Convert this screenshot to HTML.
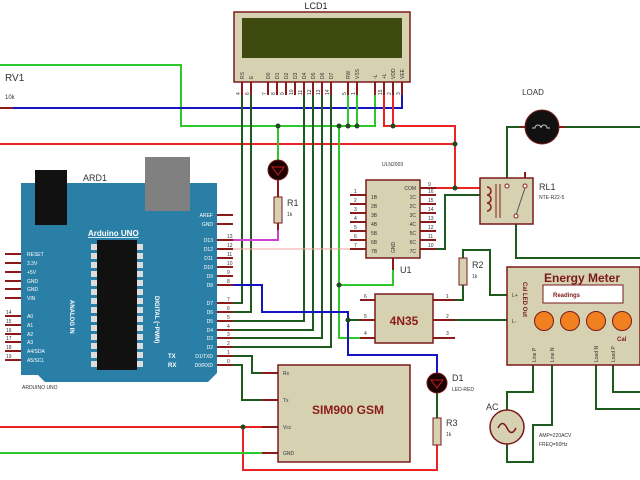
<!DOCTYPE html>
<html><head><meta charset="utf-8"><style>
html,body{margin:0;padding:0;background:#fff;width:640px;height:480px;overflow:hidden}
svg{display:block;font-family:"Liberation Sans",sans-serif}
</style></head><body>
<svg width="640" height="480" viewBox="0 0 640 480" xmlns="http://www.w3.org/2000/svg">
<g fill="none" stroke-width="2">
<!-- top wires -->
<polyline points="0,65 181,65 181,126 375,126 375,95" stroke="#2ec82e"/>
<polyline points="0,108 402,108 402,95" stroke="#1414c0"/>
<line x1="0" y1="144" x2="455" y2="144" stroke="#ee2222"/>
<polyline points="384,95 384,126 455,126 455,188 420,188" stroke="#ee2222"/>
<line x1="393" y1="95" x2="393" y2="126" stroke="#ee2222"/>
<line x1="455" y1="188" x2="480" y2="188" stroke="#ee2222"/>
<line x1="348" y1="95" x2="348" y2="126" stroke="#2ec82e"/>
<line x1="357" y1="95" x2="357" y2="126" stroke="#2ec82e"/>
<line x1="278" y1="126" x2="278" y2="160" stroke="#2ec82e"/>
<polyline points="339,126 339,338 360,338" stroke="#2ec82e"/>
<polyline points="339,285 393,285 393,268" stroke="#2ec82e"/>
<!-- data lines -->
<polyline points="233,303 242,303 242,95" stroke="#1e5a1e"/>
<polyline points="233,312 251,312 251,95" stroke="#1e5a1e"/>
<polyline points="233,321 304,321 304,95" stroke="#1e5a1e"/>
<polyline points="233,330 313,330 313,95" stroke="#1e5a1e"/>
<polyline points="233,338 322,338 322,95" stroke="#1e5a1e"/>
<polyline points="233,347 331,347 331,95" stroke="#1e5a1e"/>
<polyline points="278,228 278,240 233,240" stroke="#d040d0"/>
<line x1="233" y1="249" x2="350" y2="249" stroke="#f0a0a0" stroke-width="1"/>
<polyline points="233,285 262,285 262,312 348,312 348,355 437,355 437,373" stroke="#1414c0"/>
<line x1="348" y1="320" x2="360" y2="320" stroke="#1e5a1e"/>
<polyline points="233,356 252,356 252,373 262,373" stroke="#1e5a1e"/>
<polyline points="233,365 242,365 242,400 262,400" stroke="#1e5a1e"/>
<line x1="0" y1="427" x2="262" y2="427" stroke="#ee2222"/>
<polyline points="243,427 243,470 437,470 437,445" stroke="#ee2222"/>
<line x1="0" y1="453" x2="262" y2="453" stroke="#2ec82e"/>
<line x1="437" y1="393" x2="437" y2="418" stroke="#1e5a1e"/>
<polyline points="420,249 445,249 445,195 480,195" stroke="#1e5a1e"/>
<polyline points="507,185 507,127 525,127" stroke="#1e5a1e"/>
<line x1="560" y1="127" x2="640" y2="127" stroke="#1e5a1e"/>
<polyline points="516,224 516,258 640,258" stroke="#1e5a1e"/>
<polyline points="455,300 463,300 463,285" stroke="#1e5a1e"/>
<polyline points="463,258 463,250 490,250 490,295 507,295" stroke="#1e5a1e"/>
<line x1="455" y1="320" x2="507" y2="320" stroke="#1e5a1e"/>
<polyline points="533,365 533,392 507,392 507,410" stroke="#1e5a1e"/>
<polyline points="552,365 552,425 533,425 533,462 507,462 507,444" stroke="#1e5a1e"/>
<polyline points="596,365 596,409 640,409" stroke="#1e5a1e"/>
<polyline points="613,365 613,392 640,392" stroke="#1e5a1e"/>
</g>
<!-- dots -->
<g fill="#1e4a1e">
<circle cx="278" cy="126" r="2.5"/><circle cx="339" cy="126" r="2.5"/><circle cx="348" cy="126" r="2.5"/><circle cx="357" cy="126" r="2.5"/><circle cx="393" cy="126" r="2.5"/><circle cx="455" cy="144" r="2.5"/><circle cx="455" cy="188" r="2.5"/><circle cx="339" cy="285" r="2.5"/><circle cx="348" cy="320" r="2.5"/><circle cx="243" cy="427" r="2.5"/>
</g>
<!-- RV1 -->
<text x="5" y="81" font-size="10" fill="#333">RV1</text>
<text x="5" y="99" font-size="6" fill="#333">10k</text>
<line x1="0" y1="108" x2="13" y2="108" stroke="#8b1a1a" stroke-width="2"/>
<!-- LCD -->
<text x="316" y="9" font-size="9" fill="#222" text-anchor="middle">LCD1</text>
<rect x="234" y="12" width="176" height="70" fill="#d6d1b1" stroke="#7a1a1a" stroke-width="1.5"/>
<rect x="242" y="18" width="160" height="40" fill="#3e4a10"/>
<g stroke="#8b1a1a" stroke-width="2">
<line x1="242" y1="82" x2="242" y2="95"/><line x1="251" y1="82" x2="251" y2="95"/><line x1="268" y1="82" x2="268" y2="95"/><line x1="277" y1="82" x2="277" y2="95"/><line x1="286" y1="82" x2="286" y2="95"/><line x1="295" y1="82" x2="295" y2="95"/><line x1="304" y1="82" x2="304" y2="95"/><line x1="313" y1="82" x2="313" y2="95"/><line x1="322" y1="82" x2="322" y2="95"/><line x1="331" y1="82" x2="331" y2="95"/><line x1="348" y1="82" x2="348" y2="95"/><line x1="357" y1="82" x2="357" y2="95"/><line x1="375" y1="82" x2="375" y2="95"/><line x1="384" y1="82" x2="384" y2="95"/><line x1="393" y1="82" x2="393" y2="95"/><line x1="402" y1="82" x2="402" y2="95"/>
</g>
<g font-size="5" fill="#333">
<text transform="translate(244,79) rotate(-90)">RS</text><text transform="translate(253,79) rotate(-90)">E</text><text transform="translate(270,79) rotate(-90)">D0</text><text transform="translate(279,79) rotate(-90)">D1</text><text transform="translate(288,79) rotate(-90)">D2</text><text transform="translate(297,79) rotate(-90)">D3</text><text transform="translate(306,79) rotate(-90)">D4</text><text transform="translate(315,79) rotate(-90)">D5</text><text transform="translate(324,79) rotate(-90)">D6</text><text transform="translate(333,79) rotate(-90)">D7</text><text transform="translate(350,79) rotate(-90)">RW</text><text transform="translate(359,79) rotate(-90)">VSS</text><text transform="translate(377,79) rotate(-90)">-L</text><text transform="translate(386,79) rotate(-90)">+L</text><text transform="translate(395,79) rotate(-90)">VDD</text><text transform="translate(404,79) rotate(-90)">VEE</text>
<text transform="translate(240,95) rotate(-90)">4</text><text transform="translate(249,95) rotate(-90)">6</text><text transform="translate(266,95) rotate(-90)">7</text><text transform="translate(275,95) rotate(-90)">8</text><text transform="translate(284,95) rotate(-90)">9</text><text transform="translate(293,95) rotate(-90)">10</text><text transform="translate(302,95) rotate(-90)">11</text><text transform="translate(311,95) rotate(-90)">12</text><text transform="translate(320,95) rotate(-90)">13</text><text transform="translate(329,95) rotate(-90)">14</text><text transform="translate(346,95) rotate(-90)">5</text><text transform="translate(355,95) rotate(-90)">1</text><text transform="translate(382,95) rotate(-90)">15</text><text transform="translate(391,95) rotate(-90)">2</text><text transform="translate(400,95) rotate(-90)">3</text>
</g>
<!-- R1 LED -->
<circle cx="278" cy="170" r="10" fill="#1a0000" stroke="#7a1a1a"/>
<polygon points="272,167 284,167 278,175" fill="none" stroke="#c02020"/>
<line x1="278" y1="180" x2="278" y2="197" stroke="#8b1a1a" stroke-width="2"/>
<rect x="274" y="197" width="8" height="26" fill="#d6d1b1" stroke="#7a1a1a"/>
<line x1="278" y1="223" x2="278" y2="230" stroke="#8b1a1a" stroke-width="2"/>
<text x="287" y="206" font-size="9" fill="#333">R1</text><text x="287" y="216" font-size="5" fill="#333">1k</text>
<!-- Arduino -->
<text x="83" y="181" font-size="9" fill="#333">ARD1</text>
<polygon points="21,183 217,183 217,373 208,382 45,382 38,375 21,375" fill="#2a7fa6"/>
<rect x="35" y="170" width="32" height="55" fill="#111"/>
<rect x="145" y="157" width="45" height="54" fill="#808080"/>
<text x="88" y="236" font-size="8" font-weight="bold" fill="#fff" text-decoration="underline">Arduino UNO</text>
<rect x="97" y="240" width="40" height="130" fill="#111"/>
<g fill="#ddd">
<rect x="91" y="244" width="6" height="6"/><rect x="91" y="253" width="6" height="6"/><rect x="91" y="262" width="6" height="6"/><rect x="91" y="271" width="6" height="6"/><rect x="91" y="280" width="6" height="6"/><rect x="91" y="289" width="6" height="6"/><rect x="91" y="298" width="6" height="6"/><rect x="91" y="307" width="6" height="6"/><rect x="91" y="316" width="6" height="6"/><rect x="91" y="325" width="6" height="6"/><rect x="91" y="334" width="6" height="6"/><rect x="91" y="343" width="6" height="6"/><rect x="91" y="352" width="6" height="6"/><rect x="91" y="361" width="6" height="6"/>
<rect x="137" y="244" width="6" height="6"/><rect x="137" y="253" width="6" height="6"/><rect x="137" y="262" width="6" height="6"/><rect x="137" y="271" width="6" height="6"/><rect x="137" y="280" width="6" height="6"/><rect x="137" y="289" width="6" height="6"/><rect x="137" y="298" width="6" height="6"/><rect x="137" y="307" width="6" height="6"/><rect x="137" y="316" width="6" height="6"/><rect x="137" y="325" width="6" height="6"/><rect x="137" y="334" width="6" height="6"/><rect x="137" y="343" width="6" height="6"/><rect x="137" y="352" width="6" height="6"/><rect x="137" y="361" width="6" height="6"/>
</g>
<text transform="translate(155,296) rotate(90)" font-size="6" font-weight="bold" fill="#fff">DIGITAL (~PWM)</text>
<text transform="translate(70,300) rotate(90)" font-size="6" font-weight="bold" fill="#fff">ANALOG IN</text>
<text x="168" y="358" font-size="6" font-weight="bold" fill="#fff">TX</text><text x="168" y="367" font-size="6" font-weight="bold" fill="#fff">RX</text>
<text x="22" y="389" font-size="5" fill="#333">ARDUINO UNO</text>
<g stroke="#8b1a1a" stroke-width="2">
<line x1="217" y1="215" x2="233" y2="215"/><line x1="217" y1="224" x2="233" y2="224"/>
<line x1="217" y1="240" x2="233" y2="240"/><line x1="217" y1="249" x2="233" y2="249"/><line x1="217" y1="258" x2="233" y2="258"/><line x1="217" y1="267" x2="233" y2="267"/><line x1="217" y1="276" x2="233" y2="276"/><line x1="217" y1="285" x2="233" y2="285"/><line x1="217" y1="303" x2="233" y2="303"/><line x1="217" y1="312" x2="233" y2="312"/><line x1="217" y1="321" x2="233" y2="321"/><line x1="217" y1="330" x2="233" y2="330"/><line x1="217" y1="338" x2="233" y2="338"/><line x1="217" y1="347" x2="233" y2="347"/><line x1="217" y1="356" x2="233" y2="356"/><line x1="217" y1="365" x2="233" y2="365"/>
<line x1="5" y1="254" x2="21" y2="254"/><line x1="5" y1="263" x2="21" y2="263"/><line x1="5" y1="272" x2="21" y2="272"/><line x1="5" y1="281" x2="21" y2="281"/><line x1="5" y1="289" x2="21" y2="289"/><line x1="5" y1="298" x2="21" y2="298"/><line x1="5" y1="316" x2="21" y2="316"/><line x1="5" y1="325" x2="21" y2="325"/><line x1="5" y1="334" x2="21" y2="334"/><line x1="5" y1="342" x2="21" y2="342"/><line x1="5" y1="351" x2="21" y2="351"/><line x1="5" y1="360" x2="21" y2="360"/>
</g>
<g font-size="5" fill="#fff" text-anchor="end">
<text x="213" y="217">AREF</text><text x="213" y="226">GND</text><text x="213" y="242">D13</text><text x="213" y="251">D12</text><text x="213" y="260">D11</text><text x="213" y="269">D10</text><text x="213" y="278">D9</text><text x="213" y="287">D8</text><text x="213" y="305">D7</text><text x="213" y="314">D6</text><text x="213" y="323">D5</text><text x="213" y="332">D4</text><text x="213" y="340">D3</text><text x="213" y="349">D2</text><text x="213" y="358">D1/TXD</text><text x="213" y="367">D0/RXD</text>
</g>
<g font-size="5" fill="#fff">
<text x="27" y="256">RESET</text><text x="27" y="265">3.3V</text><text x="27" y="274">+5V</text><text x="27" y="283">GND</text><text x="27" y="291">GND</text><text x="27" y="300">VIN</text><text x="27" y="318">A0</text><text x="27" y="327">A1</text><text x="27" y="336">A2</text><text x="27" y="344">A3</text><text x="27" y="353">A4/SDA</text><text x="27" y="362">A5/SCL</text>
</g>
<g font-size="5" fill="#333">
<text x="227" y="238">13</text><text x="227" y="247">12</text><text x="227" y="256">11</text><text x="227" y="265">10</text><text x="227" y="274">9</text><text x="227" y="283">8</text><text x="227" y="301">7</text><text x="227" y="310">6</text><text x="227" y="319">5</text><text x="227" y="328">4</text><text x="227" y="336">3</text><text x="227" y="345">2</text><text x="227" y="354">1</text><text x="227" y="363">0</text>
<text x="6" y="314">14</text><text x="6" y="323">15</text><text x="6" y="332">16</text><text x="6" y="340">17</text><text x="6" y="349">18</text><text x="6" y="358">19</text>
</g>
<!-- ULN2003 -->
<text x="382" y="166" font-size="5" fill="#333">ULN2003</text>
<g stroke="#8b1a1a" stroke-width="2">
<line x1="350" y1="195" x2="366" y2="195"/><line x1="350" y1="204" x2="366" y2="204"/><line x1="350" y1="213" x2="366" y2="213"/><line x1="350" y1="222" x2="366" y2="222"/><line x1="350" y1="231" x2="366" y2="231"/><line x1="350" y1="240" x2="366" y2="240"/><line x1="350" y1="249" x2="366" y2="249"/>
<line x1="420" y1="188" x2="436" y2="188"/><line x1="420" y1="195" x2="436" y2="195"/><line x1="420" y1="204" x2="436" y2="204"/><line x1="420" y1="213" x2="436" y2="213"/><line x1="420" y1="222" x2="436" y2="222"/><line x1="420" y1="231" x2="436" y2="231"/><line x1="420" y1="240" x2="436" y2="240"/><line x1="420" y1="249" x2="436" y2="249"/>
<line x1="393" y1="258" x2="393" y2="270"/>
</g>
<rect x="366" y="180" width="54" height="78" fill="#d6d1b1" stroke="#7a1a1a" stroke-width="1.5"/>
<g font-size="5" fill="#333">
<text x="371" y="199">1B</text><text x="371" y="208">2B</text><text x="371" y="217">3B</text><text x="371" y="226">4B</text><text x="371" y="235">5B</text><text x="371" y="244">6B</text><text x="371" y="253">7B</text>
<text x="416" y="190" text-anchor="end">COM</text><text x="416" y="199" text-anchor="end">1C</text><text x="416" y="208" text-anchor="end">2C</text><text x="416" y="217" text-anchor="end">3C</text><text x="416" y="226" text-anchor="end">4C</text><text x="416" y="235" text-anchor="end">5C</text><text x="416" y="244" text-anchor="end">6C</text><text x="416" y="253" text-anchor="end">7C</text>
<text transform="translate(395,253) rotate(-90)">GND</text>
<text x="354" y="193">1</text><text x="354" y="202">2</text><text x="354" y="211">3</text><text x="354" y="220">4</text><text x="354" y="229">5</text><text x="354" y="238">6</text><text x="354" y="247">7</text>
<text x="428" y="186">9</text><text x="428" y="193">16</text><text x="428" y="202">15</text><text x="428" y="211">14</text><text x="428" y="220">13</text><text x="428" y="229">12</text><text x="428" y="238">11</text><text x="428" y="247">10</text>
</g>
<text x="400" y="273" font-size="9" fill="#333">U1</text>
<!-- Relay -->
<line x1="525" y1="172" x2="525" y2="185" stroke="#8b1a1a" stroke-width="2"/>
<rect x="480" y="178" width="53" height="46" fill="#d6d1b1" stroke="#7a1a1a" stroke-width="1.5"/>
<path d="M487,187 a4,4 0 0 1 0,8 a4,4 0 0 1 0,8 a4,4 0 0 1 0,8" fill="none" stroke="#8b1a1a" stroke-width="1.5"/>
<line x1="496" y1="184" x2="496" y2="218" stroke="#8b1a1a"/><line x1="500" y1="184" x2="500" y2="218" stroke="#8b1a1a"/>
<line x1="516" y1="215" x2="525" y2="188" stroke="#555"/>
<circle cx="507" cy="186" r="2" fill="#fff" stroke="#8b1a1a"/><circle cx="525" cy="186" r="2" fill="#fff" stroke="#8b1a1a"/><circle cx="516" cy="216" r="2" fill="#fff" stroke="#8b1a1a"/>
<text x="539" y="190" font-size="9" fill="#333">RL1</text><text x="539" y="199" font-size="5" fill="#333">NTE-R22-5</text>
<!-- Load -->
<text x="533" y="95" font-size="8" fill="#333" text-anchor="middle">LOAD</text>
<line x1="520" y1="127" x2="565" y2="127" stroke="#8b1a1a" stroke-width="2"/>
<circle cx="542" cy="127" r="17" fill="#111" stroke="#7a1a1a"/>
<path d="M532,128 h3 a3,3 0 1 1 6,0 a3,3 0 1 1 6,0 h3" fill="none" stroke="#ccc"/>
<!-- 4N35 -->
<g stroke="#8b1a1a" stroke-width="2">
<line x1="360" y1="300" x2="375" y2="300"/><line x1="360" y1="320" x2="375" y2="320"/><line x1="360" y1="338" x2="375" y2="338"/>
<line x1="433" y1="300" x2="455" y2="300"/><line x1="433" y1="320" x2="455" y2="320"/><line x1="433" y1="338" x2="455" y2="338"/>
</g>
<rect x="375" y="294" width="58" height="49" fill="#d6d1b1" stroke="#7a1a1a" stroke-width="1.5"/>
<text x="404" y="325" font-size="12" font-weight="bold" fill="#8b1a1a" text-anchor="middle">4N35</text>
<g font-size="5" fill="#333"><text x="364" y="298">6</text><text x="364" y="318">5</text><text x="364" y="335">4</text><text x="446" y="298">1</text><text x="446" y="318">2</text><text x="446" y="335">3</text></g>
<!-- R2 -->
<rect x="459" y="258" width="8" height="27" fill="#d6d1b1" stroke="#7a1a1a"/>
<text x="472" y="268" font-size="9" fill="#333">R2</text><text x="472" y="278" font-size="5" fill="#333">1k</text>
<!-- Energy meter -->
<rect x="507" y="267" width="133" height="98" fill="#d6d1b1" stroke="#7a1a1a" stroke-width="1.5"/>
<text x="544" y="282" font-size="12" font-weight="bold" fill="#7a1a1a">Energy Meter</text>
<rect x="543" y="285" width="80" height="18" fill="#fff" stroke="#7a1a1a"/>
<text x="553" y="297" font-size="6" font-weight="bold" fill="#7a1a1a">Readings</text>
<text transform="translate(523,282) rotate(90)" font-size="6" font-weight="bold" fill="#7a1a1a">Cal LED Out</text>
<text x="512" y="297" font-size="5" fill="#333">L+</text><text x="512" y="323" font-size="5" fill="#333">L-</text>
<g fill="#f08020" stroke="#7a1a1a"><circle cx="544" cy="321" r="9.5"/><circle cx="570" cy="321" r="9.5"/><circle cx="596" cy="321" r="9.5"/><circle cx="622" cy="321" r="9.5"/></g>
<text x="617" y="341" font-size="6" font-weight="bold" fill="#7a1a1a">Cal</text>
<g font-size="5" fill="#333"><text transform="translate(536,362) rotate(-90)">Line P</text><text transform="translate(554,362) rotate(-90)">Line N</text><text transform="translate(598,362) rotate(-90)">Load N</text><text transform="translate(615,362) rotate(-90)">Load P</text></g>
<!-- AC -->
<circle cx="507" cy="427" r="17" fill="#d6d1b1" stroke="#7a1a1a" stroke-width="1.5"/>
<path d="M498,428 q4.5,-9 9,0 t9,0" fill="none" stroke="#7a1a1a" stroke-width="1.5"/>
<text x="486" y="410" font-size="9" fill="#333">AC</text>
<text x="539" y="437" font-size="5" fill="#333">AMP=220ACV</text><text x="539" y="446" font-size="5" fill="#333">FREQ=50Hz</text>
<!-- SIM900 -->
<g stroke="#8b1a1a" stroke-width="2"><line x1="262" y1="373" x2="278" y2="373"/><line x1="262" y1="400" x2="278" y2="400"/><line x1="262" y1="427" x2="278" y2="427"/><line x1="262" y1="453" x2="278" y2="453"/></g>
<rect x="278" y="365" width="132" height="97" fill="#d6d1b1" stroke="#7a1a1a" stroke-width="1.5"/>
<text x="348" y="414" font-size="12" font-weight="bold" fill="#8b1a1a" text-anchor="middle">SIM900 GSM</text>
<g font-size="5" fill="#333"><text x="283" y="375">Rx</text><text x="283" y="402">Tx</text><text x="283" y="429">Vcc</text><text x="283" y="455">GND</text></g>
<!-- D1, R3 -->
<circle cx="437" cy="383" r="10" fill="#1a0000" stroke="#7a1a1a"/>
<polygon points="431,380 443,380 437,388" fill="none" stroke="#c02020"/>
<text x="452" y="381" font-size="9" fill="#333">D1</text><text x="452" y="391" font-size="5" fill="#333">LED-RED</text>
<rect x="433" y="418" width="8" height="27" fill="#d6d1b1" stroke="#7a1a1a"/>
<text x="446" y="426" font-size="9" fill="#333">R3</text><text x="446" y="436" font-size="5" fill="#333">1k</text>
</svg>
</body></html>
